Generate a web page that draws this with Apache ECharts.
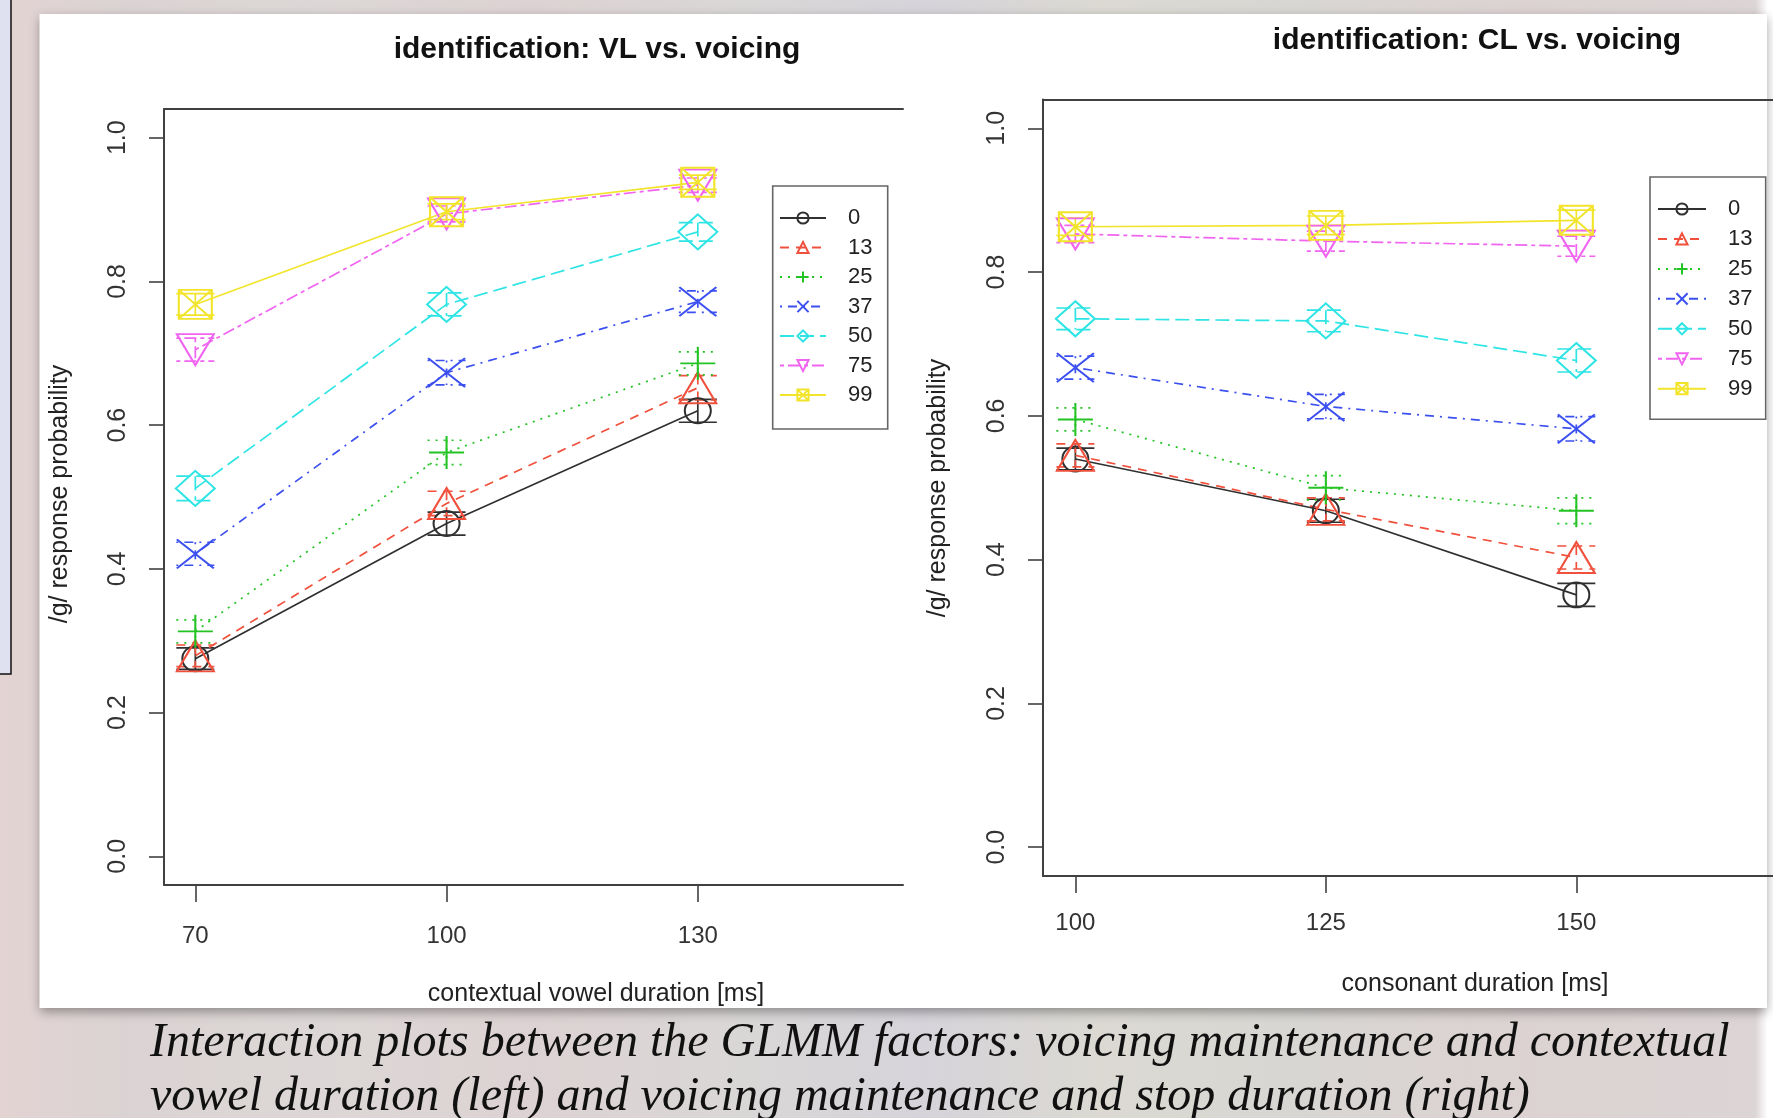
<!DOCTYPE html>
<html><head><meta charset="utf-8">
<script src="https://cdn.jsdelivr.net/npm/echarts@6/dist/echarts.min.js"></script>
<style>
html,body{margin:0;padding:0;}
body{width:1773px;height:1118px;overflow:hidden;
background:linear-gradient(90deg,#e3d3d3 0%,#dbd3d3 7%,#dcd7d6 18%,#ddd2d3 30%,#d9d7d6 42%,#d6d3da 52%,#dbd9d2 62%,#d8d6d3 74%,#dcd2d2 86%,#dcd5d5 99%,#ffffff 99.7%);}
#chart{width:1773px;height:1118px;}
</style></head><body><div id="chart"></div>
<script>
// ---------- data ----------
const groupNames = ['0', '13', '25', '37', '50', '75', '99'];
const vowelDur = [70, 100, 130];      // left panel x categories (ms)
const consDur = [100, 125, 150];      // right panel x categories (ms)
const yTicks = [0, 0.2, 0.4, 0.6, 0.8, 1.0];

// left panel: identification VL vs. voicing (probability of /g/)
const vl_0  = [0.275, 0.463, 0.620];
const vl_13 = [0.279, 0.491, 0.652];
const vl_25 = [0.313, 0.562, 0.686];
const vl_37 = [0.421, 0.673, 0.772];
const vl_50 = [0.512, 0.768, 0.869];
const vl_75 = [0.705, 0.894, 0.934];
const vl_99 = [0.768, 0.897, 0.938];
// left panel error half-widths
const vlErr_0  = [0.015, 0.016, 0.016];
const vlErr_13 = [0.015, 0.017, 0.017];
const vlErr_25 = [0.016, 0.017, 0.016];
const vlErr_37 = [0.016, 0.017, 0.015];
const vlErr_50 = [0.017, 0.016, 0.013];
const vlErr_75 = [0.016, 0.011, 0.010];
const vlErr_99 = [0.015, 0.011, 0.010];

// right panel: identification CL vs. voicing
const cl_0  = [0.540, 0.468, 0.351];
const cl_13 = [0.545, 0.470, 0.403];
const cl_25 = [0.595, 0.500, 0.468];
const cl_37 = [0.667, 0.613, 0.582];
const cl_50 = [0.735, 0.732, 0.677];
const cl_75 = [0.853, 0.843, 0.836];
const cl_99 = [0.863, 0.865, 0.872];
const clErr_0  = [0.015, 0.016, 0.016];
const clErr_13 = [0.016, 0.016, 0.016];
const clErr_25 = [0.016, 0.017, 0.018];
const clErr_37 = [0.016, 0.017, 0.017];
const clErr_50 = [0.015, 0.015, 0.016];
const clErr_75 = [0.012, 0.014, 0.014];
const clErr_99 = [0.012, 0.013, 0.014];

const vlVals = [vl_0, vl_13, vl_25, vl_37, vl_50, vl_75, vl_99];
const vlErrs = [vlErr_0, vlErr_13, vlErr_25, vlErr_37, vlErr_50, vlErr_75, vlErr_99];
const clVals = [cl_0, cl_13, cl_25, cl_37, cl_50, cl_75, cl_99];
const clErrs = [clErr_0, clErr_13, clErr_25, clErr_37, clErr_50, clErr_75, clErr_99];

// ---------- styles ----------
const FONT = 'Liberation Sans';
const colors = ['#303030', '#f0503c', '#22c322', '#3c50f0', '#2ee4e4', '#f064f0', '#f2e42a'];
const dashes = ['solid', [9, 7], [2, 6], [2, 6, 9, 6], [14, 6], [4, 4, 12, 4], 'solid'];
const symbols = [
  'path://M12,2 A10,10 0 1 1 12,22 A10,10 0 1 1 12,2 Z',
  'path://M12,2 L22,20 L2,20 Z',
  'path://M12,2 L12,22 M2,12 L22,12',
  'path://M3,3 L21,21 M21,3 L3,21',
  'path://M12,1 L23,12 L12,23 L1,12 Z',
  'path://M2,4 L22,4 L12,22 Z',
  'path://M2,2 L22,2 L22,22 L2,22 Z M2,2 L22,22 M22,2 L2,22'
];
const symSizes = [[26, 25], [37, 31], [35, 33], [37, 29], [39, 35], [37, 31], [33, 29]];

function makeLineSeries(xs, vals, xi, yi) {
  return vals.map((v, i) => ({
    name: groupNames[i],
    type: 'line',
    xAxisIndex: xi, yAxisIndex: yi,
    data: xs.map((x, k) => [x, v[k]]),
    symbol: symbols[i],
    symbolSize: symSizes[i],
    showAllSymbol: true,
    lineStyle: { color: colors[i], width: 1.7, type: dashes[i] },
    itemStyle: { color: 'rgba(0,0,0,0)', borderColor: colors[i], borderWidth: 2 },
    emphasis: { disabled: true },
    z: 3,
    animation: false
  }));
}
function makeErrSeries(xs, vals, errs, xi, yi, tag) {
  return vals.map((v, i) => ({
    name: tag + groupNames[i],
    type: 'custom',
    xAxisIndex: xi, yAxisIndex: yi,
    data: xs.map((x, k) => [x, v[k], errs[i][k]]),
    encode: { x: 0, y: 1 },
    silent: true,
    z: 2,
    animation: false,
    renderItem: function (params, api) {
      const x = api.value(0), y = api.value(1), e = api.value(2);
      const p = api.coord([x, y]);
      const lo = api.coord([x, y - e]);
      const hi = api.coord([x, y + e]);
      const hw = 19;
      const st = { stroke: colors[i], lineWidth: 1.7, lineDash: dashes[i] === 'solid' ? null : dashes[i] };
      return {
        type: 'group', children: [
          { type: 'line', shape: { x1: p[0], y1: hi[1], x2: p[0], y2: lo[1] }, style: st },
          { type: 'line', shape: { x1: p[0] - hw, y1: hi[1], x2: p[0] + hw, y2: hi[1] }, style: st },
          { type: 'line', shape: { x1: p[0] - hw, y1: lo[1], x2: p[0] + hw, y2: lo[1] }, style: st }
        ]
      };
    }
  }));
}

const axisLineStyle = { color: '#404040', width: 2 };
function xAxisBottom(grid, min, max, ticks, margin) {
  return {
    type: 'value', gridIndex: grid, position: 'bottom', min: min, max: max,
    axisLine: { show: true, onZero: false, lineStyle: axisLineStyle },
    axisTick: { show: true, customValues: ticks, length: 17, lineStyle: { color: '#404040', width: 1.6 } },
    axisLabel: { customValues: ticks, margin: margin, fontFamily: FONT, fontSize: 24, color: '#333' },
    splitLine: { show: false }
  };
}
function xAxisTop(grid, min, max) {
  return {
    type: 'value', gridIndex: grid, position: 'top', min: min, max: max,
    axisLine: { show: true, onZero: false, lineStyle: axisLineStyle },
    axisTick: { show: false }, axisLabel: { show: false }, splitLine: { show: false }
  };
}
function yAxisLeft(grid) {
  return {
    type: 'value', gridIndex: grid, position: 'left', min: -0.04, max: 1.04,
    axisLine: { show: true, onZero: false, lineStyle: axisLineStyle },
    axisTick: { show: true, customValues: yTicks, length: 15, lineStyle: { color: '#404040', width: 1.6 } },
    axisLabel: { customValues: yTicks, rotate: 90, margin: 33, fontFamily: FONT, fontSize: 25, color: '#333',
      formatter: v => v.toFixed(1) },
    splitLine: { show: false }
  };
}

const legendText = { fontFamily: FONT, fontSize: 22, color: '#222', lineHeight: 22, padding: [0, 0, 0, 17] };
const titleText = { fontFamily: FONT, fontWeight: 'bold', fontSize: 30, color: '#111' };

const option = {
  backgroundColor: 'transparent',
  animation: false,
  title: [
    { text: 'identification: VL vs. voicing', left: 597, top: 35, textAlign: 'center', padding: 0, textStyle: titleText },
    { text: 'identification: CL vs. voicing', left: 1477, top: 26, textAlign: 'center', padding: 0, textStyle: titleText }
  ],
  grid: [
    { left: 164, top: 109, width: 739, height: 776 },
    { left: 1043, top: 99.5, width: 730, height: 776.5 }
  ],
  xAxis: [
    xAxisBottom(0, 66.26, 154.5, vowelDur, 39),
    xAxisTop(0, 66.26, 154.5),
    xAxisBottom(1, 96.77, 169.63, consDur, 35),
    xAxisTop(1, 96.77, 169.63)
  ],
  yAxis: [yAxisLeft(0), yAxisLeft(1)],
  legend: [
    { left: 779, top: 207, orient: 'vertical', itemWidth: 46, itemHeight: 14, itemGap: 7.5, padding: 0,
      data: groupNames, selectedMode: false, textStyle: legendText },
    { left: 1657, top: 198, orient: 'vertical', itemWidth: 48, itemHeight: 14, itemGap: 7.95, padding: 0,
      data: groupNames, selectedMode: false, textStyle: legendText }
  ],
  graphic: [
    { type: 'rect', z: -10, silent: true, shape: { x: 39.5, y: 14, width: 1727.5, height: 994 },
      style: { fill: '#ffffff', shadowBlur: 10, shadowOffsetY: 4, shadowColor: 'rgba(0,0,0,0.35)' } },
    { type: 'rect', z: -9, silent: true, shape: { x: -2, y: -2, width: 13, height: 676 },
      style: { fill: '#dfe0f0', stroke: '#111', lineWidth: 1.5 } },
    { type: 'rect', z: -5, silent: true, shape: { x: 772.7, y: 186, width: 115, height: 243 },
      style: { fill: '#ffffff', stroke: '#666', lineWidth: 1.6 } },
    { type: 'rect', z: -5, silent: true, shape: { x: 1650, y: 177, width: 115.7, height: 242.3 },
      style: { fill: '#ffffff', stroke: '#666', lineWidth: 1.6 } },
    { type: 'text', silent: true, x: 596, y: 994,
      style: { text: 'contextual vowel duration [ms]', fontFamily: FONT, fontSize: 25, fill: '#222', align: 'center', verticalAlign: 'middle' } },
    { type: 'text', silent: true, x: 1475, y: 984,
      style: { text: 'consonant duration [ms]', fontFamily: FONT, fontSize: 25, fill: '#222', align: 'center', verticalAlign: 'middle' } },
    { type: 'text', silent: true, x: 60, y: 494, rotation: Math.PI / 2,
      style: { text: '/g/ response probability', fontFamily: FONT, fontSize: 25, fill: '#222', align: 'center', verticalAlign: 'middle' } },
    { type: 'text', silent: true, x: 938.5, y: 488, rotation: Math.PI / 2,
      style: { text: '/g/ response probability', fontFamily: FONT, fontSize: 25, fill: '#222', align: 'center', verticalAlign: 'middle' } },
    { type: 'text', silent: true, x: 150, y: 1043,
      style: { text: 'Interaction plots between the GLMM factors: voicing maintenance and contextual',
        fontFamily: 'Liberation Serif', fontStyle: 'italic', fontSize: 48, fill: '#111', align: 'left', verticalAlign: 'middle' } },
    { type: 'text', silent: true, x: 150, y: 1097,
      style: { text: 'vowel duration (left) and voicing maintenance and stop duration (right)',
        fontFamily: 'Liberation Serif', fontStyle: 'italic', fontSize: 48, fill: '#111', align: 'left', verticalAlign: 'middle' } }
  ],
  series: [].concat(
    makeLineSeries(vowelDur, vlVals, 0, 0),
    makeLineSeries(consDur, clVals, 2, 1),
    makeErrSeries(vowelDur, vlVals, vlErrs, 0, 0, 'vl-err-'),
    makeErrSeries(consDur, clVals, clErrs, 2, 1, 'cl-err-')
  )
};

const chart = echarts.init(document.getElementById('chart'), null, { renderer: 'canvas' });
chart.setOption(option);
</script>
</body></html>
